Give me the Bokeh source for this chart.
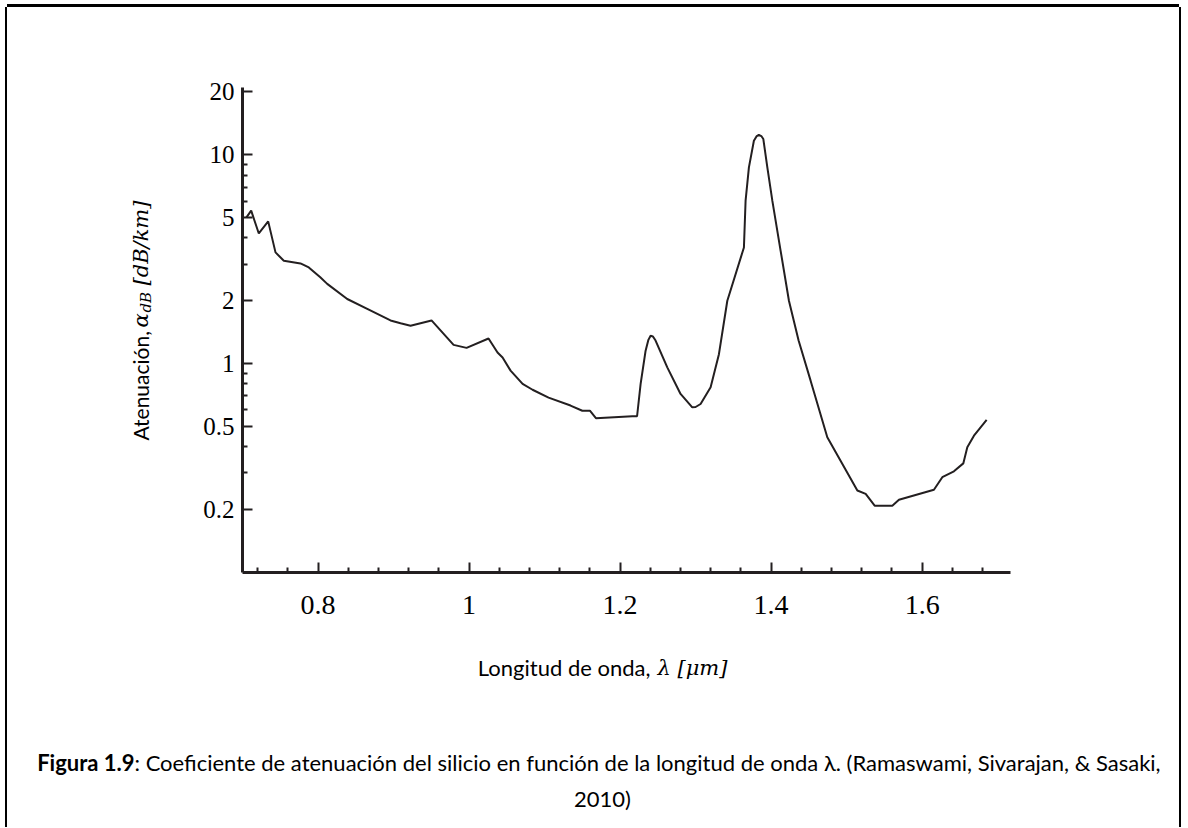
import math
from bokeh.plotting import figure
from bokeh.models import Range1d, FixedTicker, CustomJSTickFormatter, Label
from bokeh.embed import file_html
from bokeh.resources import INLINE

# ---------------- data ----------------
wavelength_um = [
    0.705, 0.7115, 0.7216, 0.734, 0.7437, 0.7547, 0.7768, 0.7878, 0.803, 0.8122,
    0.8387, 0.8652, 0.896, 0.9093, 0.9225, 0.9503, 0.9795, 0.9967, 1.0258, 1.0377,
    1.0444, 1.055, 1.0709, 1.0841, 1.1053, 1.1344, 1.150, 1.160, 1.168, 1.2162,
    1.2225, 1.2272, 1.2338, 1.2375, 1.2404, 1.2435, 1.247, 1.2625, 1.2801, 1.2956,
    1.300, 1.3066, 1.3199, 1.3309, 1.342, 1.364, 1.3662, 1.3706, 1.3772, 1.381,
    1.3838, 1.387, 1.3897, 1.395, 1.4016, 1.4126, 1.4236, 1.4364, 1.4523, 1.4744,
    1.5142, 1.5252, 1.5371, 1.5605, 1.5693, 1.6156, 1.6267, 1.6421, 1.6545, 1.6598,
    1.6686, 1.6854,
]
attenuation_db_km = [
    5.0, 5.4, 4.2, 4.8, 3.41, 3.11, 3.02, 2.89, 2.59, 2.41,
    2.04, 1.83, 1.61, 1.56, 1.52, 1.61, 1.23, 1.19, 1.32, 1.13,
    1.07, 0.926, 0.80, 0.75, 0.688, 0.63, 0.595, 0.595, 0.548, 0.56,
    0.56, 0.80, 1.154, 1.30, 1.36, 1.35, 1.29, 0.96, 0.716, 0.618,
    0.62, 0.641, 0.77, 1.11, 2.0, 3.6, 6.03, 8.7, 11.67, 12.3,
    12.47, 12.3, 11.9, 8.7, 6.03, 3.47, 2.0, 1.29, 0.829, 0.444,
    0.247, 0.238, 0.209, 0.209, 0.223, 0.249, 0.286, 0.305, 0.333, 0.398,
    0.452, 0.538,
]
x_major_ticks = [0.8, 1.0, 1.2, 1.4, 1.6]
x_minor_ticks = [0.72, 0.76, 0.84, 0.88, 0.92, 0.96, 1.04, 1.08, 1.12, 1.16,
                 1.24, 1.28, 1.32, 1.36, 1.44, 1.48, 1.52, 1.56, 1.64, 1.68]
y_major_ticks = [0.2, 0.5, 1, 2, 5, 10, 20]
y_minor_ticks = [0.3, 0.4, 0.6, 0.7, 0.8, 0.9, 3, 4, 6, 7, 8, 9]

x_label_main = "Longitud de onda,"
x_label_math = "λ [μm]"
y_label_main = "Atenuación,"
y_label_alpha = "α"
y_label_sub = "dB"
y_label_unit = "[dB/km]"
caption_bold = "Figura 1.9"
caption_rest = (": Coeficiente de atenuación del silicio en función de la longitud de onda λ."
                " (Ramaswami, Sivarajan, & Sasaki,")
caption_line2 = "2010)"

# ---------------- layout ----------------
X0, X1 = 0.7, 1.717
Y0, Y1 = 0.1, 21.0
OFF = 7                                  # margin left/top of the figure (page px)
W, H = 1172, 820
FL, FR, FT, FB = 242 - OFF, 1010 - OFF, 87 - OFF, 572 - OFF   # frame edges (figure px)

def dx(px):
    return X0 + (px - OFF - FL) * (X1 - X0) / (FR - FL)

def dy(py):
    lo, hi = math.log10(Y0), math.log10(Y1)
    return 10 ** (lo + (FB - (py - OFF)) * (hi - lo) / (FB - FT))

INK = "#231f20"

p = figure(width=W, height=H,
           x_range=Range1d(X0, X1), y_range=Range1d(Y0, Y1),
           y_axis_type="log", output_backend="svg", toolbar_location=None,
           min_border_left=FL, min_border_right=W - FR,
           min_border_top=FT, min_border_bottom=H - FB)
p.margin = (OFF, OFF, 0, OFF)
# page frame: top, left and right rules (no bottom rule, as in the reference)
p.styles = {"box-shadow": "-2px 0 0 0 #000, 2px 0 0 0 #000, 0 -3px 0 0 #000"}
p.outline_line_color = None
p.xgrid.visible = False
p.ygrid.visible = False
p.background_fill_color = "white"
p.border_fill_color = "white"

p.line(wavelength_um, attenuation_db_km, line_width=2, line_color=INK)

fmt = CustomJSTickFormatter(code="return String(Number(tick.toPrecision(3)));")
p.xaxis.ticker = FixedTicker(ticks=x_major_ticks, minor_ticks=x_minor_ticks)
p.yaxis.ticker = FixedTicker(ticks=y_major_ticks, minor_ticks=y_minor_ticks)
for ax in (p.xaxis[0], p.yaxis[0]):
    ax.formatter = fmt
    ax.axis_line_width = 3
    ax.axis_line_color = INK
    ax.major_tick_line_color = INK
    ax.minor_tick_line_color = INK
    ax.major_tick_line_width = 2
    ax.minor_tick_line_width = 2
    ax.major_tick_in = 10
    ax.major_tick_out = 0
    ax.minor_tick_in = 5
    ax.minor_tick_out = 0
    ax.major_label_text_font = "Liberation Serif"
    ax.major_label_text_color = "black"
p.xaxis.major_label_text_font_size = "28px"
p.yaxis.major_label_text_font_size = "25px"
p.xaxis.major_label_standoff = 23
p.yaxis.major_label_standoff = 8

def lab(panel, px, py, text, font, size, style="normal", align="left", angle=0.0):
    p.add_layout(Label(x=dx(px), y=dy(py), text=text, angle=angle, text_align=align,
                       text_baseline="alphabetic", text_font=font,
                       text_font_style=style, text_font_size=size,
                       text_color="black"), panel)

MATH = "DejaVu Serif"

# x axis title
lab("below", 650, 667, x_label_main, "Lato", "22px", align="right")
lab("below", 657, 667, x_label_math, MATH, "21px", style="italic")

# y axis title (rotated)
rot = math.pi / 2
lab("left", 140, 440, y_label_main, "Lato", "21px", angle=rot)
lab("left", 140, 327, y_label_alpha, MATH, "21px", style="italic", angle=rot)
lab("left", 145, 312, y_label_sub, MATH, "15px", style="italic", angle=rot)
lab("left", 140, 285, y_label_unit, MATH, "21px", style="italic", angle=rot)

# caption
lab("below", 134, 762, caption_bold, "Lato", "22px", style="bold", align="right")
lab("below", 134, 762, caption_rest, "Lato", "22px")
lab("below", 602, 798, caption_line2, "Lato", "22px", align="center")

open("out.html", "w").write(file_html(p, INLINE))
